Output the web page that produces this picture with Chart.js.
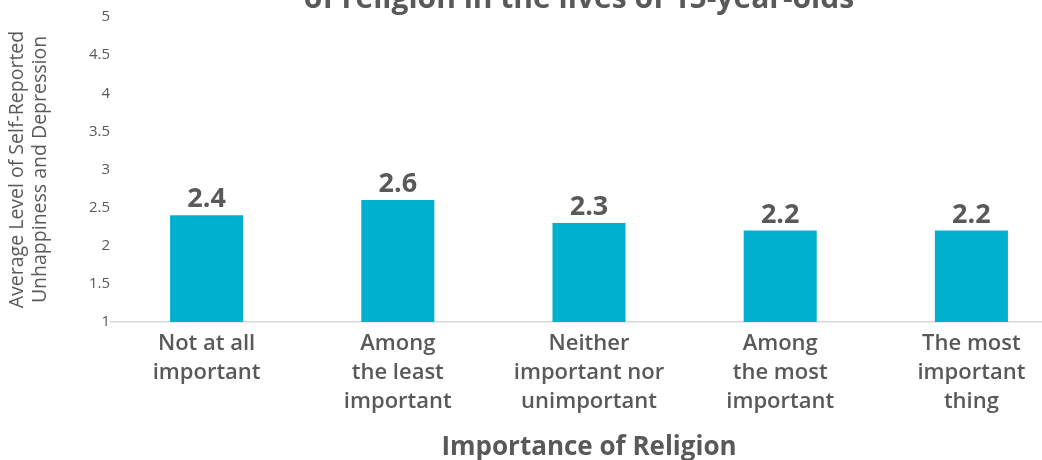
<!DOCTYPE html>
<html>
<head>
<meta charset="utf-8">
<script src="https://cdn.jsdelivr.net/npm/chart.js@4"></script>
<style>
  html, body { margin: 0; padding: 0; overflow: hidden; background: #fff; }
  #wrap { width: 1042px; height: 460px; overflow: hidden; position: relative; }
  canvas { display: block; }
</style>
</head>
<body>
<div id="wrap"><canvas id="chart" width="1080" height="460"></canvas></div>
<script>
const categories = [
  ['Not at all', 'important'],
  ['Among', 'the least', 'important'],
  ['Neither', 'important nor', 'unimportant'],
  ['Among', 'the most', 'important'],
  ['The most', 'important', 'thing']
];
const values = [2.4, 2.6, 2.3, 2.2, 2.2];
const yTitle = ['Average Level of Self-Reported', 'Unhappiness and Depression'];
const xTitle = 'Importance of Religion';
const chartTitle = 'of religion in the lives of 15-year-olds';

const grey = '#595959';
const font = "'Open Sans', sans-serif";

// title is cropped at the top in the reference, draw it partly off-canvas
const titlePlugin = {
  id: 'cutTitle',
  afterDraw(chart) {
    const ctx = chart.ctx;
    ctx.save();
    ctx.font = `bold 30px ${font}`;
    ctx.fillStyle = grey;
    ctx.textAlign = 'center';
    ctx.textBaseline = 'alphabetic';
    ctx.fillText(chartTitle, 579, 8);
    ctx.restore();
  }
};

// value labels above bars
const valueLabels = {
  id: 'valueLabels',
  afterDatasetsDraw(chart) {
    const ctx = chart.ctx;
    const meta = chart.getDatasetMeta(0);
    ctx.save();
    ctx.font = `bold 27px ${font}`;
    ctx.fillStyle = grey;
    ctx.textAlign = 'center';
    ctx.textBaseline = 'alphabetic';
    meta.data.forEach((bar, i) => {
      ctx.fillText(values[i].toFixed(1), bar.x, bar.y - 8);
    });
    ctx.restore();
  }
};

new Chart(document.getElementById('chart'), {
  type: 'bar',
  data: {
    labels: categories,
    datasets: [{
      data: values,
      backgroundColor: '#00b0cf',
      borderWidth: 0,
      categoryPercentage: 1,
      barPercentage: 0.382
    }]
  },
  options: {
    responsive: false,
    animation: false,
    layout: { padding: { top: 17, right: 13, left: 0, bottom: 0 } },
    plugins: {
      legend: { display: false },
      tooltip: { enabled: false }
    },
    scales: {
      x: {
        grid: { display: false, drawTicks: false },
        border: { display: true, color: '#d9d9d9', width: 1.5 },
        ticks: {
          color: grey,
          font: { family: font, size: 22, weight: '600', lineHeight: 1.33 },
          padding: 7,
          maxRotation: 0,
          autoSkip: false
        },
        title: {
          display: true,
          text: xTitle,
          color: grey,
          font: { family: font, size: 26, weight: 'bold' },
          padding: { top: 10, bottom: -3 }
        },
        afterFit(scale) { scale.height = 138; }
      },
      y: {
        min: 1,
        max: 5,
        grid: { display: false, drawTicks: false },
        border: { display: false },
        ticks: {
          stepSize: 0.5,
          color: grey,
          font: { family: font, size: 15 },
          padding: 1,
          callback: v => String(Number(v.toFixed(1)))
        },
        title: {
          display: true,
          text: yTitle,
          color: grey,
          font: { family: font, size: 19.5, lineHeight: 1.18 },
          padding: { top: 6, bottom: 0 }
        },
        afterFit(scale) { scale.width = 111; }
      }
    }
  },
  plugins: [titlePlugin, valueLabels]
});
</script>
</body>
</html>
